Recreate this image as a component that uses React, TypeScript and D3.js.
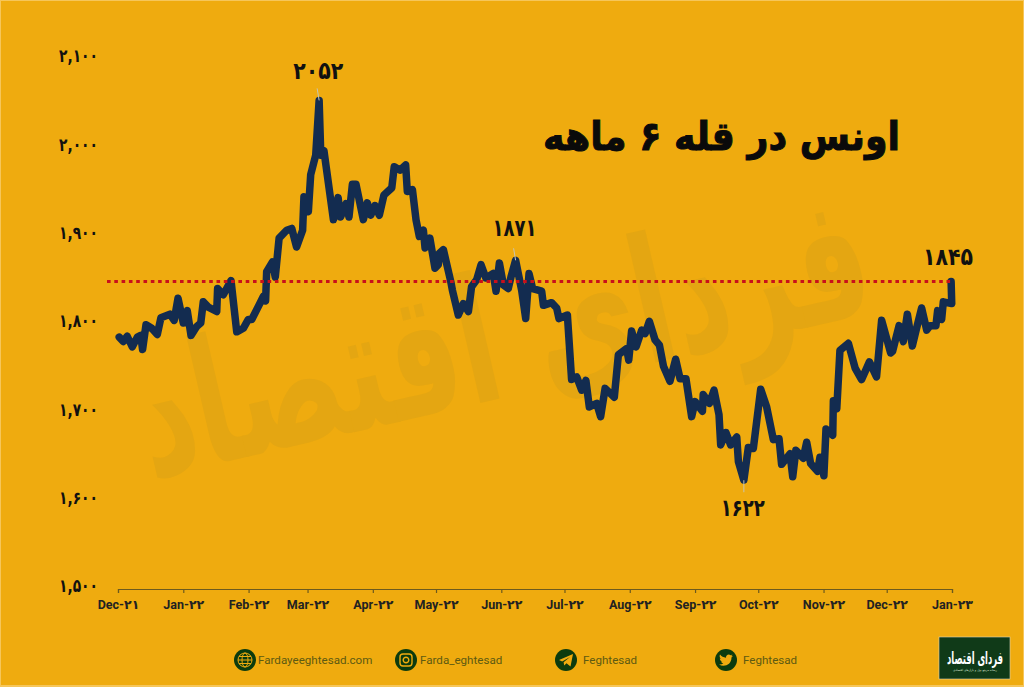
import React, { useEffect, useRef } from 'react';
import * as d3 from 'd3';

// days counted from 1 Dec 2021
const days = [0.6, 2.5, 4.4, 6.8, 9.2, 10.8, 11.7, 13.3, 16, 18.7, 20.4, 24.7, 26.7, 28.5, 31, 32.9, 34.7, 37.4, 39.3, 40.5, 42.9, 46.9, 47.3, 50, 53.7, 56.4, 59.5, 61.9, 63.5, 69, 70.1, 70.6, 73.3, 74.7, 76.5, 80.1, 82.5, 84.8, 87.7, 88.3, 90.4, 91.5, 93.9, 95.5, 96.3, 97.8, 102.3, 104.5, 105.7, 108.3, 109.7, 111.3, 113, 116.5, 118.4, 120, 122, 124.1, 126.3, 130, 131.2, 133.9, 136.6, 137.4, 139.8, 141.5, 143.1, 145, 145.8, 148.1, 150.5, 152.1, 152.6, 154.5, 158, 158.8, 161.6, 164, 166.4, 167.9, 170.3, 172.4, 174.7, 178.2, 179.5, 181.1, 183, 185.3, 186.6, 188.8, 191.7, 193.6, 195.2, 196.9, 201.2, 202, 205.9, 208.3, 209.4, 213.4, 215.4, 217.8, 220.2, 222.2, 223.8, 227.3, 229.2, 231.3, 235.7, 237.6, 241.5, 242.5, 243.9, 246, 248.7, 250.3, 252.3, 255, 257.1, 259, 262.1, 264.8, 266.9, 269.7, 272.4, 274, 277.5, 277.9, 280.8, 283, 285.4, 286.2, 288.7, 290.9, 293.8, 294.6, 297.2, 299.3, 301.7, 305.2, 308, 311.2, 313.9, 315.1, 319.1, 320.4, 321.9, 325.4, 327, 328.9, 332.2, 333.3, 335.2, 336.2, 339.4, 339.7, 341.3, 342.8, 346.8, 350, 353.1, 356.8, 360.2, 362.6, 366.9, 367.8, 370.9, 372.9, 374.8, 377.2, 379.2, 381.6, 384, 385.6, 388.4, 389.2, 391.1, 391.9, 395.9, 395.6];
const prices = [1784, 1779, 1785, 1773, 1784, 1786, 1770, 1798, 1794, 1787, 1806, 1810, 1803, 1828, 1800, 1814, 1786, 1796, 1800, 1824, 1818, 1813, 1839, 1832, 1848, 1790, 1794, 1804, 1804, 1830, 1825, 1858, 1869, 1852, 1896, 1905, 1907, 1886, 1905, 1943, 1926, 1968, 1990, 2052, 1990, 1995, 1917, 1942, 1920, 1935, 1920, 1957, 1957, 1917, 1936, 1922, 1933, 1922, 1945, 1953, 1977, 1973, 1979, 1949, 1951, 1917, 1898, 1905, 1885, 1896, 1862, 1866, 1879, 1883, 1847, 1837, 1809, 1822, 1813, 1841, 1849, 1866, 1851, 1856, 1836, 1868, 1843, 1839, 1852, 1871, 1837, 1805, 1856, 1839, 1836, 1820, 1823, 1817, 1805, 1809, 1736, 1739, 1724, 1735, 1705, 1709, 1694, 1726, 1716, 1764, 1771, 1758, 1791, 1773, 1792, 1788, 1802, 1781, 1775, 1751, 1734, 1759, 1737, 1737, 1694, 1711, 1700, 1719, 1709, 1724, 1696, 1662, 1676, 1662, 1671, 1643, 1622, 1659, 1658, 1725, 1705, 1668, 1669, 1640, 1652, 1626, 1656, 1647, 1665, 1641, 1632, 1648, 1627, 1680, 1673, 1712, 1703, 1769, 1777, 1749, 1736, 1756, 1739, 1803, 1766, 1768, 1797, 1779, 1810, 1774, 1794, 1817, 1792, 1797, 1797, 1814, 1804, 1824, 1822, 1847];
const yTicks = [1500, 1600, 1700, 1800, 1900, 2000, 2100];
const refPrice = 1847;
const peakLabels = ['۲۰۵۲', '۱۸۷۱', '۱۶۲۲'];
const peakDays = [95.5, 188.8, 297.2];
const peakPrices = [2052, 1871, 1622];
const lastLabel = '۱۸۴۵';
const title = 'اونس در قله ۶ ماهه';
const watermark = 'فردای اقتصاد';
const logoLine = 'رسانه مرجع پول و بازارهای اقتصادی';
const socials = ['Fardayeeghtesad.com', 'Farda_eghtesad', 'Feghtesad', 'Feghtesad'];
const toFa = (s: string) => s.replace(/\d/g, c => '۰۱۲۳۴۵۶۷۸۹'[+c]);

const W = 1024;
const H = 687;
const BG = '#efab0f';
const NAVY = '#132c50';
const GREEN = '#0c3b0e';
const FA = '"DejaVu Sans", sans-serif';

export default function App() {
  const ref = useRef<SVGSVGElement>(null);

  useEffect(() => {
    document.body.style.margin = '0';
    const svg = d3.select(ref.current);
    svg.selectAll('*').remove();

    const start = new Date(2021, 11, 1);
    const end = new Date(2023, 0, 1);
    const x = d3.scaleTime().domain([start, end]).range([118, 952]);
    const y = d3.scaleLinear().domain([1500, 2100]).range([588, 58]);
    const xDay = (d: number) => x(d3.timeHour.offset(start, d * 24));

    svg.append('rect').attr('width', W).attr('height', H).attr('fill', '#f6c65a');
    svg.append('rect').attr('x', 1).attr('y', 1).attr('width', W - 2).attr('height', H - 3).attr('fill', BG);

    // watermark
    svg.append('text')
      .attr('transform', 'translate(515,395) rotate(-13) scale(1,1.55)')
      .attr('text-anchor', 'middle')
      .attr('font-family', FA)
      .attr('font-weight', 700)
      .attr('font-size', 112)
      .attr('fill', '#e4a612')
      .attr('direction', 'rtl')
      .text(watermark);

    // y axis
    const yAxis = svg.append('g')
      .attr('transform', 'translate(98,-2)')
      .call(d3.axisLeft(y).tickValues(yTicks).tickSize(0).tickPadding(0)
        .tickFormat(d => toFa(d3.format(',')(d as number))));
    yAxis.select('.domain').remove();
    yAxis.selectAll('text')
      .attr('font-family', FA).attr('font-weight', 700).attr('font-size', 18).attr('fill', '#111')
      .attr('textLength', 39).attr('lengthAdjust', 'spacingAndGlyphs');

    // x axis
    const xAxis = svg.append('g')
      .attr('transform', 'translate(0,589)')
      .call(d3.axisBottom(x).ticks(d3.timeMonth.every(1)).tickSize(4).tickPadding(7)
        .tickFormat(d => toFa(d3.timeFormat('%b-%y')(d as Date))));
    xAxis.selectAll('.domain, line').attr('stroke', '#6d5a1e').attr('stroke-width', 1.2);
    xAxis.selectAll('text')
      .attr('font-family', 'Roboto, "DejaVu Sans", sans-serif').attr('font-weight', 700).attr('font-size', 12.5).attr('fill', '#222');

    // price line
    const line = d3.line<number>()
      .x((_, i) => xDay(days[i]))
      .y(d => y(d));
    svg.append('path')
      .attr('d', line(prices))
      .attr('fill', 'none')
      .attr('stroke', NAVY)
      .attr('stroke-width', 7.5)
      .attr('stroke-linejoin', 'round')
      .attr('stroke-linecap', 'round');

    // dotted reference
    svg.append('line')
      .attr('x1', 107).attr('x2', xDay(days[days.length - 1]))
      .attr('y1', y(refPrice)).attr('y2', y(refPrice))
      .attr('stroke', '#c9101b').attr('stroke-width', 3).attr('stroke-dasharray', '3.6 3.7');

    // peak labels
    const labelW = [50, 44, 44];
    peakLabels.forEach((label, i) => {
      const px = xDay(peakDays[i]);
      const py = y(peakPrices[i]);
      const dir = i === 2 ? 1 : -1;
      svg.append('line')
        .attr('x1', px - dir * 0 - (i === 2 ? 0 : 2)).attr('x2', px)
        .attr('y1', py + dir * 12).attr('y2', py)
        .attr('stroke', '#c9c4b0').attr('stroke-width', 1);
      svg.append('text')
        .attr('x', px - 1).attr('y', py + (i === 2 ? 36 : i === 1 ? -24 : -21))
        .attr('text-anchor', 'middle')
        .attr('font-family', FA).attr('font-weight', 700).attr('font-size', 24).attr('fill', '#111')
        .attr('textLength', labelW[i]).attr('lengthAdjust', 'spacingAndGlyphs')
        .text(label);
    });
    svg.append('text')
      .attr('x', xDay(days[days.length - 1]) - 3).attr('y', y(refPrice) - 16)
      .attr('text-anchor', 'middle')
      .attr('font-family', FA).attr('font-weight', 700).attr('font-size', 24).attr('fill', '#111')
      .attr('textLength', 50).attr('lengthAdjust', 'spacingAndGlyphs')
      .text(lastLabel);

    // title
    svg.append('text')
      .attr('transform', 'translate(900,150) scale(0.91,1)')
      .attr('text-anchor', 'start')
      .attr('direction', 'rtl')
      .attr('font-family', FA).attr('font-weight', 700).attr('font-size', 40).attr('fill', '#0a0a0a')
      .attr('stroke', '#0a0a0a').attr('stroke-width', 1)
      .text(title);

    // footer
    const iconX = [245, 406, 566, 726];
    const textX = [258, 420, 583, 743];
    socials.forEach((s, i) => {
      const g = svg.append('g').attr('transform', `translate(${iconX[i]},660)`);
      g.append('circle').attr('r', 11).attr('fill', GREEN);
      if (i === 0) {
        g.append('circle').attr('r', 7).attr('fill', 'none').attr('stroke', BG).attr('stroke-width', 1);
        g.append('ellipse').attr('rx', 3).attr('ry', 7).attr('fill', 'none').attr('stroke', BG).attr('stroke-width', 1);
        g.append('path').attr('d', 'M-7,0H7M-6,-3.5H6M-6,3.5H6').attr('stroke', BG).attr('stroke-width', 1);
      } else if (i === 1) {
        g.append('rect').attr('x', -6).attr('y', -6).attr('width', 12).attr('height', 12).attr('rx', 3)
          .attr('fill', 'none').attr('stroke', BG).attr('stroke-width', 1.4);
        g.append('circle').attr('r', 2.8).attr('fill', 'none').attr('stroke', BG).attr('stroke-width', 1.4);
      } else if (i === 2) {
        g.append('path').attr('d', 'M-7,0L7,-6L4.5,6.5L0.5,3.2L-1.8,5.5L-2.4,2.2L4,-3L-3.8,1.6Z').attr('fill', BG);
      } else {
        g.append('path').attr('d', 'M-7,4.5C-2,7.5 5.5,5 5.5,-2.5L7,-4.2L5.2,-3.8L6.5,-5.5L4.6,-4.8C3,-6.5 -0.4,-5.4 0,-2.2C-2.6,-2.4 -4.6,-3.6 -6,-5.4C-6.8,-3.8 -6.2,-2 -5,-1.2L-6.2,-1.5C-6.2,0 -5.2,1 -3.8,1.5L-5,1.6C-4.6,2.7 -3.6,3.3 -2.6,3.4C-3.8,4.3 -5.4,4.7 -7,4.5Z').attr('fill', BG);
      }
      svg.append('text')
        .attr('x', textX[i]).attr('y', 664)
        .attr('font-family', 'Roboto, sans-serif').attr('font-size', 11.6).attr('fill', '#5d5a12')
        .text(s);
    });

    // logo
    svg.append('rect').attr('x', 939).attr('y', 637).attr('width', 71).attr('height', 42)
      .attr('fill', '#103a18').attr('stroke', '#d9d4b8').attr('stroke-width', 0.6);
    svg.append('text')
      .attr('transform', 'translate(975,664) scale(1,2)')
      .attr('text-anchor', 'middle').attr('direction', 'rtl')
      .attr('font-family', FA).attr('font-weight', 700).attr('font-size', 8.4).attr('fill', '#fff')
      .text(watermark);
    svg.append('text')
      .attr('x', 975).attr('y', 671).attr('text-anchor', 'middle').attr('direction', 'rtl')
      .attr('font-family', FA).attr('font-size', 2.9).attr('fill', '#dfe6d8')
      .text(logoLine);
  }, []);

  return <svg ref={ref} width={W} height={H} style={{ display: 'block' }} />;
}
